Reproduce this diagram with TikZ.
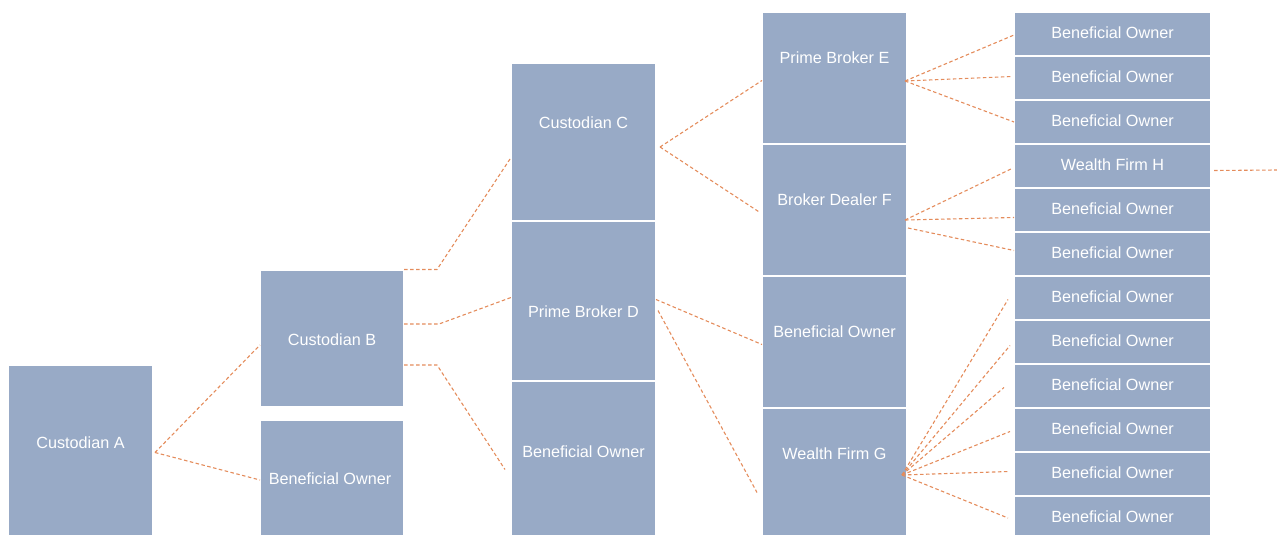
\documentclass[tikz,border=0pt]{standalone}
\usepackage{fontspec}
\setmainfont{Liberation Sans}
\definecolor{boxfill}{RGB}{152,170,198}
\definecolor{linkc}{RGB}{228,140,92}
\begin{document}
\begin{tikzpicture}[x=1pt,y=-1pt,
  box/.style={fill=boxfill, draw=white, line width=1.4pt, anchor=north west, inner sep=0pt, outer sep=0pt},
  wbox/.style={box, minimum width=145pt},
  rbox/.style={box, minimum width=197pt, minimum height=44pt},
  lbl/.style={text=white, font=\fontsize{16.2}{19}\selectfont, inner sep=0pt},
  link/.style={draw=linkc, line width=1.1pt, dash pattern=on 3.5pt off 2.5pt}]
\useasboundingbox (0,0) rectangle (1277,535);
% column 1
\node[wbox, minimum height=175pt] (A) at (8,365) {};
% column 2
\node[box, minimum width=144pt, minimum height=137pt] (B) at (260,270) {};
\node[box, minimum width=144pt, minimum height=120pt] (BO2) at (260,420) {};
% column 3
\node[wbox, minimum height=158pt] (C) at (511,63) {};
\node[wbox, minimum height=160pt] (D) at (511,221) {};
\node[wbox, minimum height=159pt] (BO3) at (511,381) {};
% column 4
\node[wbox, minimum height=132pt] (E) at (762,12) {};
\node[wbox, minimum height=132pt] (F) at (762,144) {};
\node[wbox, minimum height=132pt] (BO4) at (762,276) {};
\node[wbox, minimum height=132pt] (G) at (762,408) {};
% column 5
\node[rbox] (r1) at (1014,12) {};
\node[rbox] (r2) at (1014,56) {};
\node[rbox] (r3) at (1014,100) {};
\node[rbox] (r4) at (1014,144) {};
\node[rbox] (r5) at (1014,188) {};
\node[rbox] (r6) at (1014,232) {};
\node[rbox] (r7) at (1014,276) {};
\node[rbox] (r8) at (1014,320) {};
\node[rbox] (r9) at (1014,364) {};
\node[rbox] (r10) at (1014,408) {};
\node[rbox] (r11) at (1014,452) {};
\node[rbox] (r12) at (1014,496) {};
% labels
\node[lbl] (tA) at (80.5,443) {Custodian A};
\node[lbl] (tB) at (332,340) {Custodian B};
\node[lbl] (tBO2) at (330,479) {Beneficial Owner};
\node[lbl] (tC) at (583.5,123) {Custodian C};
\node[lbl] (tD) at (583.5,312) {Prime Broker D};
\node[lbl] (tBO3) at (583.5,452) {Beneficial Owner};
\node[lbl] (tE) at (834.5,58) {Prime Broker E};
\node[lbl] (tF) at (834.5,200) {Broker Dealer F};
\node[lbl] (tBO4) at (834.5,332) {Beneficial Owner};
\node[lbl] (tG) at (834.5,454) {Wealth Firm G};
\node[lbl] (t1) at (1112.5,33) {Beneficial Owner};
\node[lbl] (t2) at (1112.5,77) {Beneficial Owner};
\node[lbl] (t3) at (1112.5,121) {Beneficial Owner};
\node[lbl] (t4) at (1112.5,165) {Wealth Firm H};
\node[lbl] (t5) at (1112.5,209) {Beneficial Owner};
\node[lbl] (t6) at (1112.5,253) {Beneficial Owner};
\node[lbl] (t7) at (1112.5,297) {Beneficial Owner};
\node[lbl] (t8) at (1112.5,341) {Beneficial Owner};
\node[lbl] (t9) at (1112.5,385) {Beneficial Owner};
\node[lbl] (t10) at (1112.5,429) {Beneficial Owner};
\node[lbl] (t11) at (1112.5,473) {Beneficial Owner};
\node[lbl] (t12) at (1112.5,517) {Beneficial Owner};
% connectors
\coordinate (Aout) at ([xshift=2pt]A.east);
\draw[link] (Aout) -- ([yshift=-6.5pt]B.west);
\draw[link] (Aout) -- (BO2.west);
\draw[link] ([yshift=69pt]B.east) -- ++(33,0) -- ([yshift=-15.5pt]C.west);
\draw[link] ([yshift=14.5pt]B.east) -- ++(35,0) -- ([yshift=3.5pt]D.west);
\draw[link] ([yshift=-26.5pt]B.east) -- ++(33,0) -- ([xshift=-6pt,yshift=-9pt]BO3.west);
\coordinate (Cout) at ([xshift=4pt,yshift=-5pt]C.east);
\draw[link] (Cout) -- ([yshift=-2.5pt]E.west);
\draw[link] (Cout) -- ([xshift=-2pt,yshift=-2.5pt]F.west);
\draw[link] ([yshift=1.5pt]D.east) -- ([yshift=-2.5pt]BO4.west);
\draw[link] ([xshift=2pt,yshift=-9.5pt]D.east) -- ([xshift=-5pt,yshift=-18.5pt]G.west);
\coordinate (Eout) at ([xshift=-2pt,yshift=-3pt]E.east);
\draw[link] (Eout) -- ([yshift=-1pt]r1.west);
\draw[link] (Eout) -- ([xshift=-2pt,yshift=1.5pt]r2.west);
\draw[link] (Eout) -- (r3.west);
\coordinate (Fout) at ([xshift=-2pt,yshift=-10pt]F.east);
\draw[link] (Fout) -- ([xshift=-2pt,yshift=-2.5pt]r4.west);
\draw[link] (Fout) -- ([yshift=-7.5pt]r5.west);
\draw[link] ([xshift=1pt,yshift=-18pt]F.east) -- ([yshift=3.5pt]r6.west);
\coordinate (Gout) at ([xshift=-5pt,yshift=-1pt]G.east);
\draw[link] (Gout) -- ([xshift=-6pt,yshift=-1.5pt]r7.west);
\draw[link] (Gout) -- ([xshift=-4pt,yshift=-3.5pt]r8.west);
\draw[link] (Gout) -- ([xshift=-10pt,yshift=-1.5pt]r9.west);
\draw[link] (Gout) -- ([xshift=-4pt,yshift=-1.5pt]r10.west);
\draw[link] (Gout) -- ([xshift=-5pt,yshift=2.5pt]r11.west);
\draw[link] (Gout) -- ([xshift=-6pt,yshift=0pt]r12.west);
\coordinate (Hend) at (1277,170);
\draw[link] ([xshift=3pt,yshift=-4.5pt]r4.east) -- (Hend);
\end{tikzpicture}
\end{document}
